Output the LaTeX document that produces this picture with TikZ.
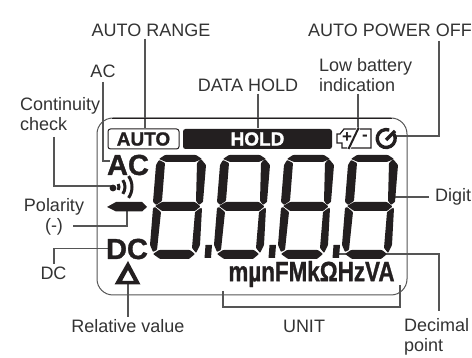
\documentclass[tikz,border=0pt]{standalone}
\usepackage{fontspec}
\setmainfont{Liberation Sans}
\newfontfamily\lcdfont[FakeBold=1.2]{Liberation Sans Bold}
\definecolor{lcdink}{HTML}{231F20}
\definecolor{labelink}{HTML}{333333}
\definecolor{leaderink}{HTML}{555555}
\tikzset{
  lbl/.style={font=\fontsize{18}{20}\selectfont,text=labelink,inner sep=0pt,align=left},
  leader/.style={draw=leaderink,line width=1.2pt},
  segment/.style={fill=lcdink,rounded corners=.8pt},
  lcdbig/.style={font=\fontsize{29}{29}\selectfont\lcdfont,text=lcdink,inner sep=0pt},
  lcdbox/.style={font=\fontsize{19}{19}\selectfont\lcdfont,inner sep=0pt,rounded corners=2.5pt,minimum height=20pt},
}
\begin{document}
\begin{tikzpicture}[x=1pt,y=-1pt]
 \useasboundingbox (0,0) rectangle (472,358);
 % labels
 \node[lbl] (autorange) at (151,30) {AUTO RANGE};
 \node[lbl] (poweroff) at (390,30) {AUTO POWER OFF};
 \node[lbl] (aclabel) at (103,71) {AC};
 \node[lbl] (datahold) at (248,85) {DATA HOLD};
 \node[lbl,anchor=west] (lowbatt) at (319,75) {Low battery\\indication};
 \node[lbl,anchor=west] (continuity) at (20,114) {Continuity\\check};
 \node[lbl,align=center] (polarity) at (54,217) {Polarity\\(-)};
 \node[lbl] (dclabel) at (53.5,273) {DC};
 \node[lbl] (relative) at (128,326) {Relative value};
 \node[lbl] (unit) at (304,326) {UNIT};
 \node[lbl,anchor=west] (decimal) at (404,337) {Decimal\\point};
 \node[lbl,anchor=west] (digit) at (435,197) {Digit};
 % leaders
 \coordinate (tipauto) at (145,128);
 \coordinate (tiphold) at (258,128);
 \coordinate (tipbatt) at (358,128);
 \coordinate (tipac) at (110,161);
 \coordinate (tipcont) at (112,186);
 \coordinate (tippol) at (127,211);
 \coordinate (tipdc) at (108,248.5);
 \coordinate (tipoff) at (396,136);
 \coordinate (tipdigit) at (394,197);
 \coordinate (tipdot) at (339,254);
 \coordinate (tiprel) at (128,284);
 \coordinate (unitl) at (223,291);
 \coordinate (unitr) at (400,285);
 \draw[leader] (tipauto |- autorange.south) ++(0,2) -- (tipauto);
 \draw[leader] (tiphold |- datahold.south) ++(0,2) -- (tiphold);
 \draw[leader] (tipbatt |- lowbatt.south) ++(0,2) -- (tipbatt);
 \draw[leader] (103,82) -- (103,161) -- (tipac);
 \draw[leader] (54,137) -- (54,186) -- (tipcont);
 \draw[leader] (73,226) -- (127,226) -- (tippol);
 \draw[leader] (54,264) -- (54,248.5) -- (tipdc);
 \draw[leader] (439,41) -- (439,136) -- (tipoff);
 \draw[leader] (429,197) -- (tipdigit);
 \draw[leader] (439,311) -- (439,254) -- (tipdot);
 \draw[leader] (tiprel) -- (128,317);
 \draw[leader] (unitl) -- (223,307) -- (400,307) -- (unitr);
 % panel
 \draw[line width=1pt,draw=leaderink,rounded corners=16pt] (97,118) rectangle (407,295);
 \draw[line width=.9pt,draw=lcdink] (112,118) -- (392,118);
 % flags
 \node[lcdbox,draw=lcdink,line width=1pt,minimum width=71pt,text=lcdink,fill=white] (autobox) at (143.5,139) {AUTO};
 \node[lcdbox,fill=lcdink,minimum width=149pt,text=white] (holdbox) at (257.5,139) {HOLD};
 \draw[draw=lcdink,line width=1.2pt] (344,129) -- (371,129) -- (371,148) -- (342,148) -- (342,143) -- (337,143) -- (337,134) -- (340,134) -- cycle;
 \node[inner sep=0pt,font=\fontsize{17}{17}\selectfont\bfseries,text=lcdink] (battplus) at (347,138) {+};
 \node[inner sep=0pt,font=\fontsize{17}{17}\selectfont\bfseries,text=lcdink] (battminus) at (365,137.5) {-};
 \draw[draw=white,line width=3.5pt] (348.5,149) -- (358.5,128);
 \draw[draw=lcdink,line width=2pt] (348.5,149) -- (358.5,128);
 \draw[draw=lcdink,line width=3.4pt] (394,134) arc[start angle=-30,end angle=290,radius=9];
 \draw[draw=lcdink,line width=3.2pt] (386,140) -- (395,131);
 % digits
 \foreach \shiftx in {0,64,128,192} {
 \begin{scope}[xshift=\shiftx pt]
  \fill[segment] (159,159) -- (165,155) -- (196,155) -- (202,159) -- (195,162) -- (166,162) -- cycle;
  \fill[segment] (159,160) -- (165,163) -- (162,201) -- (156,205) -- (153,202) -- (156,165) -- cycle;
  \fill[segment] (201,159) -- (206,165) -- (203,202) -- (199,205) -- (196,201) -- (197,163) -- cycle;
  \fill[segment] (155,206) -- (162,202) -- (195,202) -- (200.5,206.5) -- (195,211) -- (162,211) -- cycle;
  \fill[segment] (153,208) -- (155,207) -- (161,212) -- (157,250) -- (153,252) -- (150,245) -- cycle;
  \fill[segment] (202,208) -- (200.5,208) -- (195,212) -- (192,248) -- (196,253) -- (200,245) -- cycle;
  \fill[segment] (153,254) -- (159,250) -- (190,250) -- (195,254) -- (189,259) -- (160,259) -- cycle;
 \end{scope}
 }
 \foreach \shiftx in {0,64,128} {
  \fill[lcdink,xshift=\shiftx pt] (205.5,245) -- (212,245) -- (211,258) -- (204.5,258) -- cycle;
 }
 % left symbols
 \node[lcdbig] (acsign) at (128,165) {AC};
 \node[lcdbig] (dcsign) at (127,249) {DC};
 \fill[lcdink] (113,188) circle (3.4pt);
 \draw[draw=lcdink,line width=3pt] (113,187) ++(-30:6) arc[start angle=-30,end angle=30,radius=6];
 \draw[draw=lcdink,line width=3pt] (113,187) ++(-35:12) arc[start angle=-35,end angle=35,radius=12];
 \draw[draw=lcdink,line width=3pt] (113,187) ++(-35:19) arc[start angle=-35,end angle=35,radius=19];
 \fill[lcdink] (107,207) -- (116,202) -- (142,202) -- (147,207) -- (142,211.5) -- (116,211.5) -- cycle;
 \fill[lcdink,even odd rule] (128,261) -- (140.5,284.5) -- (114.5,284.5) -- cycle (128,270) -- (122,281) -- (134,281) -- cycle;
 \node[lcdbig,font=\fontsize{28}{28}\selectfont\lcdfont,xscale=.8,transform shape] (units) at (311.5,274) {mµnFMkΩHzVA};
\end{tikzpicture}
\end{document}
